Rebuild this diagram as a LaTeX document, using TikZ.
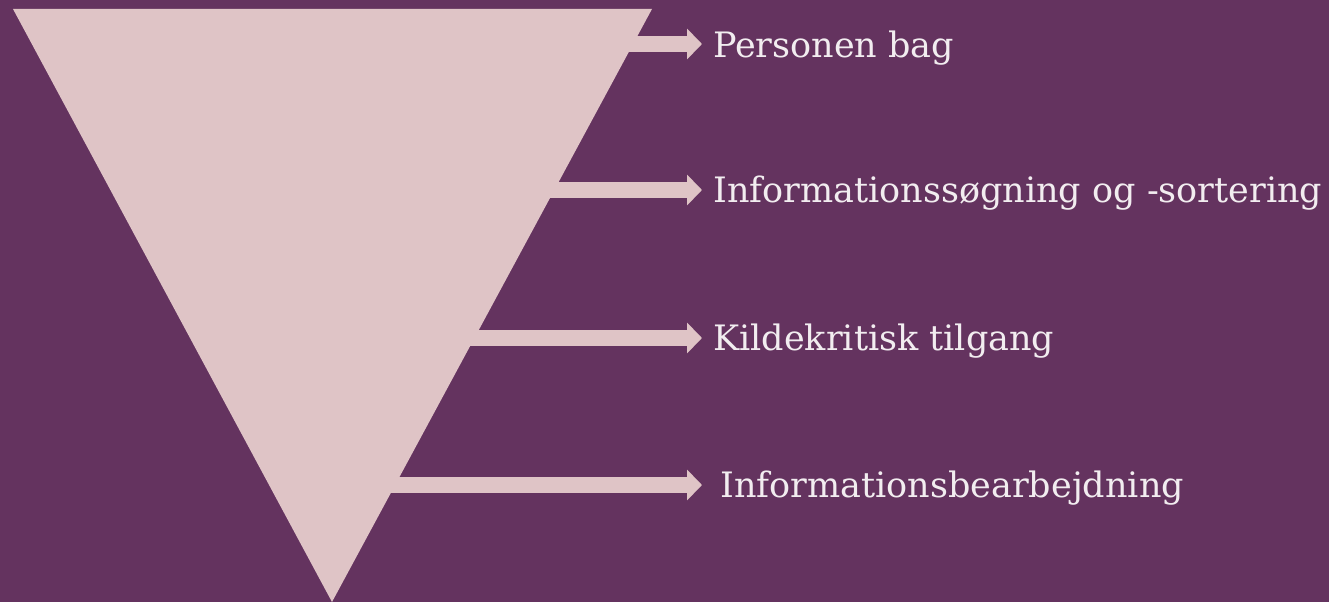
\documentclass[tikz,border=0pt]{standalone}
\usepackage{fontspec}
\setmainfont{DejaVu Serif}
\usetikzlibrary{arrows.meta}
\definecolor{bgpurple}{HTML}{64335F}
\definecolor{tripink}{HTML}{DFC4C6}
\definecolor{txtwhite}{HTML}{F2EDF0}
\begin{document}
\begin{tikzpicture}[x=1pt,y=-1pt,
  lbl/.style={anchor=base west,inner sep=0pt,text=txtwhite,font=\fontsize{35}{42}\selectfont},
  arr/.style={draw=tripink,line width=16pt,-{Triangle[length=15pt,width=30pt]}}]
\fill[bgpurple] (0,0) rectangle (1329,602);
\useasboundingbox (0,0) rectangle (1329,602);
\coordinate (tl) at (13,9);
\coordinate (tr) at (652,9);
\coordinate (bt) at (332,602);
\fill[tripink] (tl) -- (tr) -- (bt) -- cycle;
\coordinate (s1) at (600,44);  \coordinate (e1) at (702,44);
\coordinate (s2) at (520,190); \coordinate (e2) at (702,190);
\coordinate (s3) at (440,338); \coordinate (e3) at (702,338);
\coordinate (s4) at (360,485); \coordinate (e4) at (702,485);
\draw[arr] (s1) -- (e1);
\draw[arr] (s2) -- (e2);
\draw[arr] (s3) -- (e3);
\draw[arr] (s4) -- (e4);
\node[lbl] (t1) at (713,57) {Personen bag};
\node[lbl] (t2) at (713,202) {Informationssøgning og -sortering};
\node[lbl] (t3) at (713,350) {Kildekritisk tilgang};
\node[lbl] (t4) at (720,497) {Informationsbearbejdning};
\end{tikzpicture}
\end{document}
